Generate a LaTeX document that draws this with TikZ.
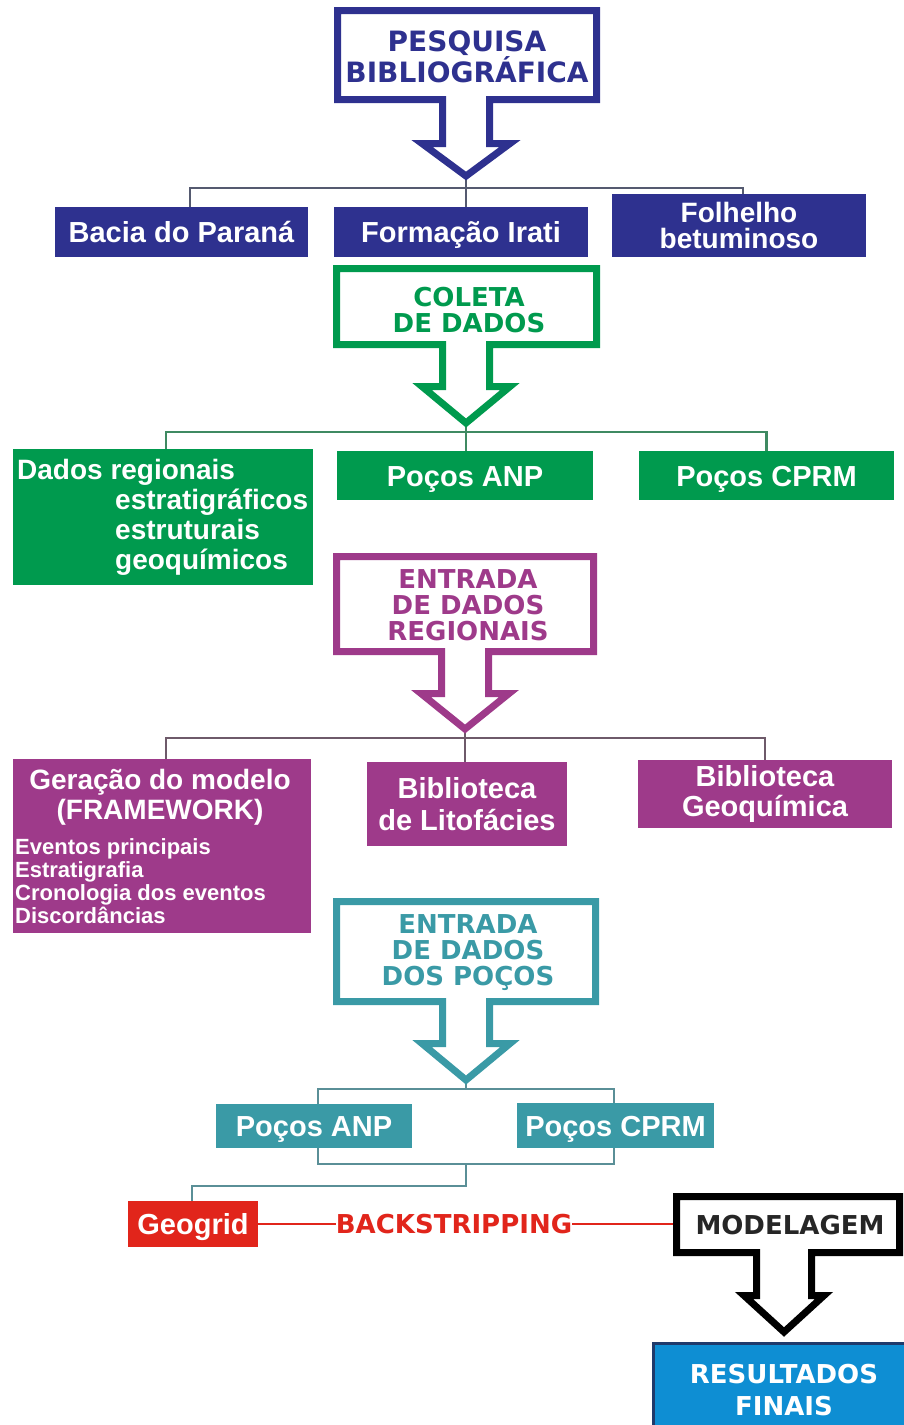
\documentclass[tikz,border=0pt]{standalone}
\usepackage{fontspec}
\setmainfont{Liberation Sans}
\newfontfamily\hdrfont{DejaVu Sans}
\usetikzlibrary{backgrounds}
\definecolor{navyc}{HTML}{2E318F}
\definecolor{greenc}{HTML}{009A4E}
\definecolor{magc}{HTML}{9E3A8A}
\definecolor{tealc}{HTML}{3A9AA6}
\definecolor{redc}{HTML}{E1251B}
\definecolor{resblue}{HTML}{0E8ED3}
\definecolor{resborder}{HTML}{1F3A6B}
\definecolor{conn1c}{HTML}{555A70}
\definecolor{conn2c}{HTML}{3F8A62}
\definecolor{conn3c}{HTML}{6E5A6A}
\definecolor{conn4c}{HTML}{5A8F97}
\def\shaftw{23.5}
\def\wingw{44}
% #1 colour, #2 L, #3 R, #4 T, #5 B, #6 cx, #7 wing y, #8 tip y
\newcommand{\downcallout}[8]{%
  \draw[#1, line width=7, fill=white, line join=miter, miter limit=10]
    (#2,#4) -- (#3,#4) -- (#3,#5) -- (#6+\shaftw,#5) -- (#6+\shaftw,#7)
    -- (#6+\wingw,#7) -- (#6,#8) -- (#6-\wingw,#7) -- (#6-\shaftw,#7)
    -- (#6-\shaftw,#5) -- (#2,#5) -- cycle;}
\tikzset{
  hdr/.style={font=\hdrfont\bfseries\fontsize{26}{26}\selectfont, align=center, inner sep=0},
  body/.style={font=\bfseries\fontsize{29}{26}\selectfont, text=white, align=center, inner sep=0},
  oneline/.style={text height=21, text depth=0},
  small/.style={font=\bfseries\fontsize{22}{23}\selectfont, text=white, align=left, inner sep=0},
  conn/.style={line width=2.5},
}
\begin{document}
\begin{tikzpicture}[x=1pt,y=-1pt]
\useasboundingbox (0,0) rectangle (904,1425);

% ---------- stage 1 ----------
\downcallout{navyc}{337.5}{596.5}{10.5}{99.5}{466}{143.5}{176}
\coordinate (tip1) at (466,176);
\node[hdr, text=navyc, font=\hdrfont\bfseries\fontsize{28}{30}\selectfont] (pesq) at (467,57) {PESQUISA\\BIBLIOGRÁFICA};
\node[body, oneline, fill=navyc, minimum width=253, minimum height=50] (bacia) at (181.5,232) {Bacia do Paraná};
\node[body, oneline, fill=navyc, minimum width=254, minimum height=50] (formacao) at (461,232) {Formação Irati};
\node[body, fill=navyc, minimum width=254, minimum height=63, font=\bfseries\fontsize{28}{26}\selectfont] (folhelho) at (739,225.5) {Folhelho\\betuminoso};
\coordinate (j1) at (466,188);

% ---------- stage 2 ----------
\downcallout{greenc}{336.5}{596.5}{268.5}{344.5}{466}{386.5}{423}
\coordinate (tip2) at (466,423);
\node[hdr, text=greenc] (coleta) at (469,310) {COLETA\\DE DADOS};
\node[fill=greenc, minimum width=300, minimum height=136, inner sep=0] (dados) at (163,517) {};
\node[body, align=left, anchor=west, font=\bfseries\fontsize{28}{30}\selectfont] (dadostxt) at (17,517)
  {Dados regionais\\\hspace*{98pt}estratigráficos\\\hspace*{98pt}estruturais\\\hspace*{98pt}geoquímicos};
\node[body, oneline, fill=greenc, minimum width=256, minimum height=49] (anp1) at (465,475.5) {Poços ANP};
\node[body, oneline, fill=greenc, minimum width=255, minimum height=49] (cprm1) at (766.5,475.5) {Poços CPRM};
\coordinate (j2) at (466,432);

% ---------- stage 3 ----------
\downcallout{magc}{336.5}{593.5}{556.5}{651.5}{465}{693.5}{729}
\coordinate (tip3) at (465,729);
\node[hdr, text=magc] (entr1) at (468,605) {ENTRADA\\DE DADOS\\REGIONAIS};
\node[fill=magc, minimum width=298, minimum height=174, inner sep=0] (geracao) at (162,846) {};
\node[body, font=\bfseries\fontsize{28}{30}\selectfont] (gertitle) at (160,797) {Geração do modelo\\(FRAMEWORK)};
\node[small, anchor=west] (gerlist) at (15,881.5) {Eventos principais\\Estratigrafia\\Cronologia dos eventos\\Discordâncias};
\node[body, fill=magc, minimum width=200, minimum height=84, font=\bfseries\fontsize{29}{32}\selectfont] (biblit) at (467,804) {Biblioteca\\de Litofácies};
\node[body, fill=magc, minimum width=254, minimum height=68, font=\bfseries\fontsize{29}{30}\selectfont] (bibgeo) at (765,794) {Biblioteca\\Geoquímica};
\coordinate (j3) at (465,738);

% ---------- stage 4 ----------
\downcallout{tealc}{336.5}{595.5}{901.5}{1001.5}{466}{1043.5}{1080}
\coordinate (tip4) at (466,1080);
\node[hdr, text=tealc] (entr2) at (468,952.5) {ENTRADA\\DE DADOS\\DOS POÇOS};
\node[body, oneline, fill=tealc, minimum width=196, minimum height=44] (anp2) at (314,1126) {Poços ANP};
\node[body, oneline, fill=tealc, minimum width=197, minimum height=45] (cprm2) at (615.5,1125.5) {Poços CPRM};
\coordinate (l4tl) at (318,1089);
\coordinate (l4br) at (614,1164);
\coordinate (j4t) at (466,1089);
\coordinate (j4b) at (466,1164);
\coordinate (k4) at (466,1186);

% ---------- stage 5 ----------
\node[body, oneline, fill=redc, minimum width=130, minimum height=46] (geogrid) at (193,1224) {Geogrid};
\node[hdr, text=redc, text height=19, text depth=0] (bs) at (454,1224) {BACKSTRIPPING};
\def\shaftw{27.5}
\def\wingw{40}
\downcallout{black}{676.5}{899.5}{1196.5}{1252.5}{784}{1295.5}{1332}
\coordinate (modl) at (673,1224);
\node[hdr, text=black!85, text height=19, text depth=0] (model) at (790,1225) {MODELAGEM};
\node[fill=resblue, minimum width=251, minimum height=82, inner sep=0, anchor=north west] (res) at (653,1343) {};
\draw[resborder, line width=3] (res.south west) -- (res.north west) -- (res.north east);
\node[hdr, text=white, font=\hdrfont\bfseries\fontsize{26}{32}\selectfont] (restxt) at (784,1390) {RESULTADOS\\FINAIS};

% ---------- connectors ----------
\begin{scope}[on background layer]
  \draw[conn, conn1c] (tip1) -- (j1);
  \draw[conn, conn1c] ([xshift=8.5]bacia.north) |- (j1);
  \draw[conn, conn1c] ([xshift=4]folhelho.north) |- (j1);
  \draw[conn, conn1c] (j1) -- (j1 |- formacao.north);

  \draw[conn, conn2c] (tip2) -- (j2);
  \draw[conn, conn2c] ([xshift=3]dados.north) |- (j2);
  \draw[conn, conn2c] (cprm1.north) |- (j2);
  \draw[conn, conn2c] (j2) -- (j2 |- anp1.north);

  \draw[conn, conn3c] (tip3) -- (j3);
  \draw[conn, conn3c] ([xshift=4]geracao.north) |- (j3);
  \draw[conn, conn3c] (bibgeo.north) |- (j3);
  \draw[conn, conn3c] (j3) -- (j3 |- biblit.north);

  \draw[conn, conn4c] (tip4) -- (j4t);
  \draw[conn, conn4c] (l4tl) rectangle (l4br);
  \draw[conn, conn4c] (j4b) -- (k4) -| ([xshift=-1]geogrid.north);

  \draw[line width=2, redc] (geogrid.east) -- (bs.west);
  \draw[line width=2, redc] (bs.east) -- (modl);
\end{scope}
\end{tikzpicture}
\end{document}
